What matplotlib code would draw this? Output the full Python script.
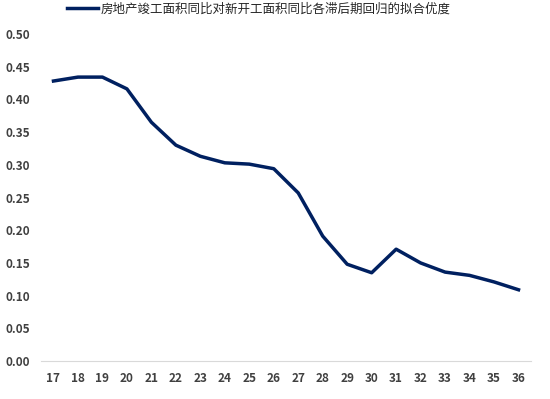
import numpy as np
import matplotlib.pyplot as plt

plt.rcParams['font.family'] = ['Noto Sans CJK SC', 'DejaVu Sans']

lags = [str(i) for i in range(17, 37)]
r2 = [0.428, 0.434, 0.434, 0.416, 0.365, 0.330, 0.313, 0.303, 0.301, 0.294,
      0.257, 0.191, 0.148, 0.135, 0.171, 0.150, 0.136, 0.131, 0.121, 0.109]
label = '房地产竣工面积同比对新开工面积同比各滞后期回归的拟合优度'

fig = plt.figure(figsize=(5.5, 3.99), dpi=100)
ax = fig.add_axes([0.075, 0.095, 0.89, 0.82])

x = np.arange(len(lags))
ax.plot(x, r2, color='#002060', linewidth=2.5, label=label)

ax.set_xlim(-0.5, len(lags) - 0.5)
ax.set_ylim(0, 0.5)
yt = np.arange(0, 0.51, 0.05)
ax.set_yticks(yt)
ax.set_yticklabels(['%.2f' % v for v in yt])
ax.set_xticks(x)
ax.set_xticklabels(lags)

for s in ['top', 'right', 'left']:
    ax.spines[s].set_visible(False)
ax.spines['bottom'].set_color('#d9d9d9')
ax.tick_params(length=0, labelsize=8.5, colors='#404040')
ax.tick_params(axis='x', pad=8)
ax.tick_params(axis='y', pad=8)
for t in ax.get_xticklabels() + ax.get_yticklabels():
    t.set_fontweight('bold')

ax.legend(loc='upper left', bbox_to_anchor=(0.03, 1.13), frameon=False,
          fontsize=9, handlelength=2.5, handletextpad=0.2, labelcolor='#262626')

fig.savefig('out.png', dpi=100)
